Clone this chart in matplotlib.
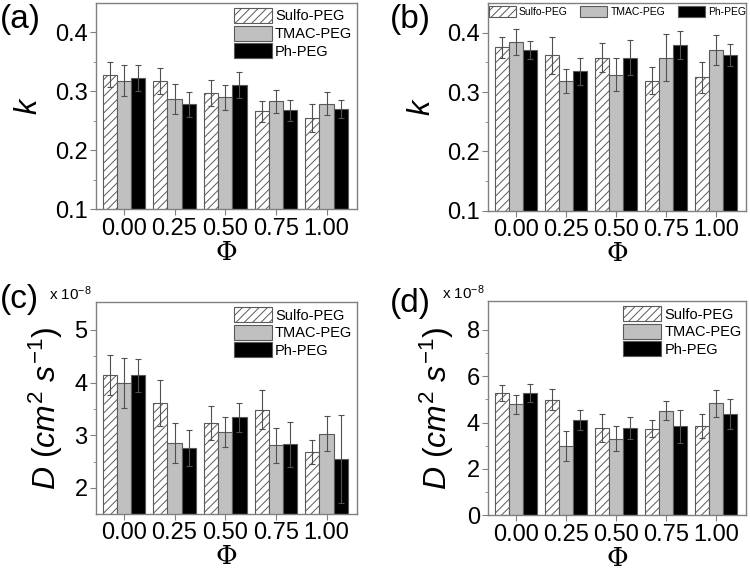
import numpy as np
import matplotlib
matplotlib.use("Agg")
import matplotlib.pyplot as plt

plt.rcParams['font.family'] = ['Liberation Sans', 'DejaVu Sans']
plt.rcParams['mathtext.fontset'] = 'custom'
plt.rcParams['mathtext.rm'] = 'Liberation Sans'
plt.rcParams['mathtext.it'] = 'Liberation Sans:italic'
plt.rcParams['hatch.color'] = '#707070'
plt.rcParams['hatch.linewidth'] = 0.7

phi = ["0.00", "0.25", "0.50", "0.75", "1.00"]
series = ["Sulfo-PEG", "TMAC-PEG", "Ph-PEG"]

# (a) k
k_a_sulfo = [0.328, 0.318, 0.297, 0.266, 0.255]
k_a_tmac = [0.318, 0.287, 0.290, 0.283, 0.279]
k_a_ph = [0.322, 0.278, 0.310, 0.268, 0.270]
k_a_sulfo_err = [0.021, 0.022, 0.022, 0.018, 0.024]
k_a_tmac_err = [0.026, 0.025, 0.021, 0.020, 0.020]
k_a_ph_err = [0.022, 0.021, 0.022, 0.018, 0.015]

# (b) k
k_b_sulfo = [0.375, 0.362, 0.358, 0.319, 0.325]
k_b_tmac = [0.384, 0.318, 0.329, 0.358, 0.371]
k_b_ph = [0.370, 0.335, 0.358, 0.379, 0.362]
k_b_sulfo_err = [0.018, 0.031, 0.025, 0.023, 0.026]
k_b_tmac_err = [0.022, 0.020, 0.028, 0.039, 0.025]
k_b_ph_err = [0.015, 0.023, 0.029, 0.023, 0.019]

# (c) D, x 1e-8
d_c_sulfo = [4.14, 3.61, 3.23, 3.48, 2.68]
d_c_tmac = [3.99, 2.86, 3.06, 2.81, 3.03]
d_c_ph = [4.14, 2.76, 3.34, 2.83, 2.55]
d_c_sulfo_err = [0.38, 0.43, 0.32, 0.37, 0.22]
d_c_tmac_err = [0.47, 0.38, 0.28, 0.33, 0.33]
d_c_ph_err = [0.31, 0.34, 0.27, 0.43, 0.83]

# (d) D, x 1e-8
d_d_sulfo = [5.29, 4.99, 3.78, 3.74, 3.84]
d_d_tmac = [4.79, 2.99, 3.31, 4.52, 4.83]
d_d_ph = [5.29, 4.13, 3.77, 3.84, 4.39]
d_d_sulfo_err = [0.35, 0.46, 0.61, 0.36, 0.51]
d_d_tmac_err = [0.42, 0.64, 0.53, 0.40, 0.59]
d_d_ph_err = [0.38, 0.43, 0.47, 0.72, 0.65]

fig = plt.figure(figsize=(7.5, 5.7), dpi=100)

edge = '#5a5a5a'
styles = [dict(facecolor='white', hatch='////'),
          dict(facecolor='#c0c0c0'),
          dict(facecolor='black')]


def panel(rect, vals, errs, ylim, yticks, ylabel, letter, letter_xy,
          legend_row=False, sci=False, minor=None, ylab_size=20):
    ax = fig.add_axes(rect)
    x = np.arange(len(phi))
    w = 0.28
    for i, (v, e, st) in enumerate(zip(vals, errs, styles)):
        xs = x + (i - 1) * w
        ax.bar(xs, v, w, edgecolor=edge, linewidth=0.8, label=series[i], **st)
        ax.errorbar(xs, v, yerr=e, fmt='none', ecolor='#505050',
                    elinewidth=0.8, capsize=2, capthick=0.8)
    ax.set_xlim(-0.55, 4.6)
    ax.set_ylim(*ylim)
    ax.set_yticks(yticks)
    if minor is not None:
        ax.set_yticks(minor, minor=True)
    ax.set_xticks(x)
    ax.set_xticklabels(phi)
    for s in ax.spines.values():
        s.set_color('#808080')
        s.set_linewidth(1.0)
    ax.tick_params(axis='both', labelsize=17, color='#808080', length=4,
                   direction='out', pad=2)
    ax.tick_params(axis='y', which='minor', color='#808080', length=2.5)
    ax.set_xlabel('Φ', fontsize=19, family='DejaVu Serif', labelpad=0)
    ax.set_ylabel(ylabel, fontsize=ylab_size)
    if legend_row:
        ax.legend(loc='upper center', ncol=3, fontsize=7.5, frameon=False,
                  handlelength=2.6, handleheight=1.2, columnspacing=1.2,
                  handletextpad=0.3, borderaxespad=0.1,
                  bbox_to_anchor=(0.5, 1.01))
    else:
        ax.legend(loc='upper right', fontsize=10.5, frameon=False,
                  handlelength=2.6, handleheight=1.2, labelspacing=0.15,
                  handletextpad=0.2, borderaxespad=0.1,
                  bbox_to_anchor=(1.01, 1.01))
    fig.text(letter_xy[0] / 750, 1 - letter_xy[1] / 570, letter,
             fontsize=24, va='top', ha='left')
    if sci:
        ax.text(-0.015, 0.995, r'x 10$^{-8}$', transform=ax.transAxes,
                fontsize=11, ha='right', va='bottom')
    return ax


ax_a = panel([0.128, 0.633, 0.348, 0.362],
             [k_a_sulfo, k_a_tmac, k_a_ph],
             [k_a_sulfo_err, k_a_tmac_err, k_a_ph_err],
             (0.1, 0.45), [0.1, 0.2, 0.3, 0.4], '$k$', '(a)', (0, 4),
             minor=[0.15, 0.25, 0.35], ylab_size=22)
ax_a.yaxis.set_label_coords(-0.2, 0.5)

ax_b = panel([0.651, 0.63, 0.344, 0.365],
             [k_b_sulfo, k_b_tmac, k_b_ph],
             [k_b_sulfo_err, k_b_tmac_err, k_b_ph_err],
             (0.1, 0.45), [0.1, 0.2, 0.3, 0.4], '$k$', '(b)', (390, 4),
             legend_row=True, minor=[0.15, 0.25, 0.35], ylab_size=22)
ax_b.yaxis.set_label_coords(-0.2, 0.5)

ax_c = panel([0.128, 0.098, 0.348, 0.372],
             [d_c_sulfo, d_c_tmac, d_c_ph],
             [d_c_sulfo_err, d_c_tmac_err, d_c_ph_err],
             (1.5, 5.53), [2, 3, 4, 5],
             r'$D$ $(cm^2$ $s^{-1})$', '(c)', (0, 284), sci=True,
             minor=[2.5, 3.5, 4.5], ylab_size=23)
ax_c.yaxis.set_label_coords(-0.12, 0.5)

ax_d = panel([0.651, 0.096, 0.344, 0.376],
             [d_d_sulfo, d_d_tmac, d_d_ph],
             [d_d_sulfo_err, d_d_tmac_err, d_d_ph_err],
             (0, 9.25), [0, 2, 4, 6, 8],
             r'$D$ $(cm^2$ $s^{-1})$', '(d)', (390, 288), sci=True,
             minor=[1, 3, 5, 7], ylab_size=23)
ax_d.yaxis.set_label_coords(-0.125, 0.5)

fig.savefig('out.png', dpi=100)
